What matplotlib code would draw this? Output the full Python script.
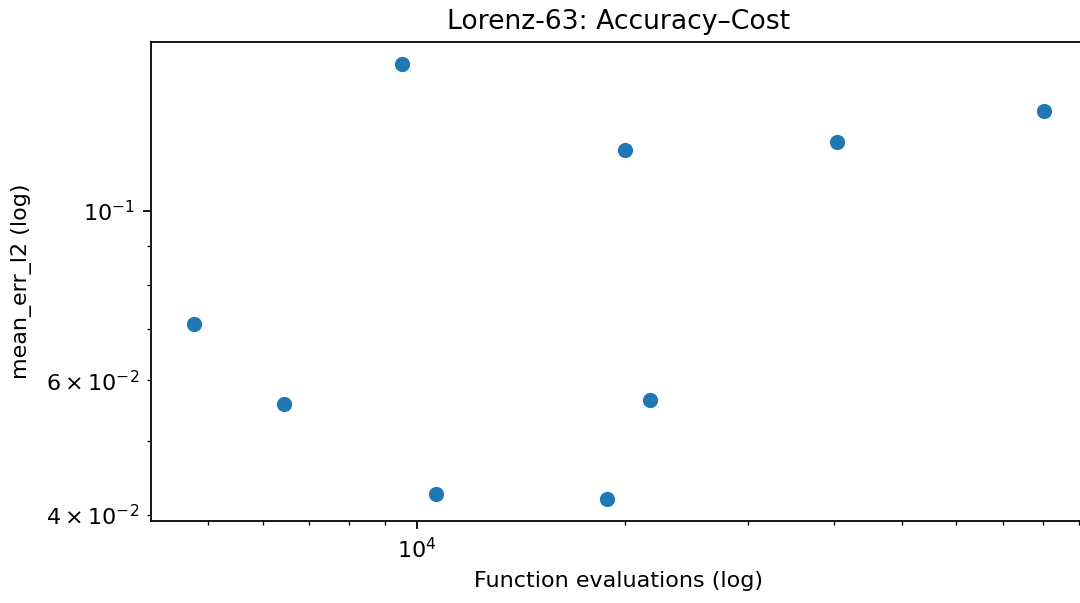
import matplotlib
matplotlib.use("Agg")
import matplotlib.pyplot as plt

# function evaluations vs mean l2 error
nfev = [4771, 6432, 9515, 10651, 18844, 20006, 21665, 40300, 80350]
mean_err_l2 = [0.0711, 0.0559, 0.1558, 0.04255, 0.04192, 0.1201, 0.0566, 0.1229, 0.1353]

fig = plt.figure(figsize=(6.75, 3.76875), dpi=160)
ax = fig.add_axes([151 / 1080, (603 - 521) / 603, (1087 - 151) / 1080, (521 - 42) / 603])
ax.scatter(nfev, mean_err_l2, s=58, color="#1f77b4", edgecolors="white", linewidths=0.75)
ax.set_xscale("log")
ax.set_yscale("log")
ax.set_xlabel("Function evaluations (log)")
ax.set_ylabel("mean_err_l2 (log)", labelpad=6)
ax.set_title("Lorenz-63: Accuracy\u2013Cost")
fig.savefig("out.png", dpi=160)
